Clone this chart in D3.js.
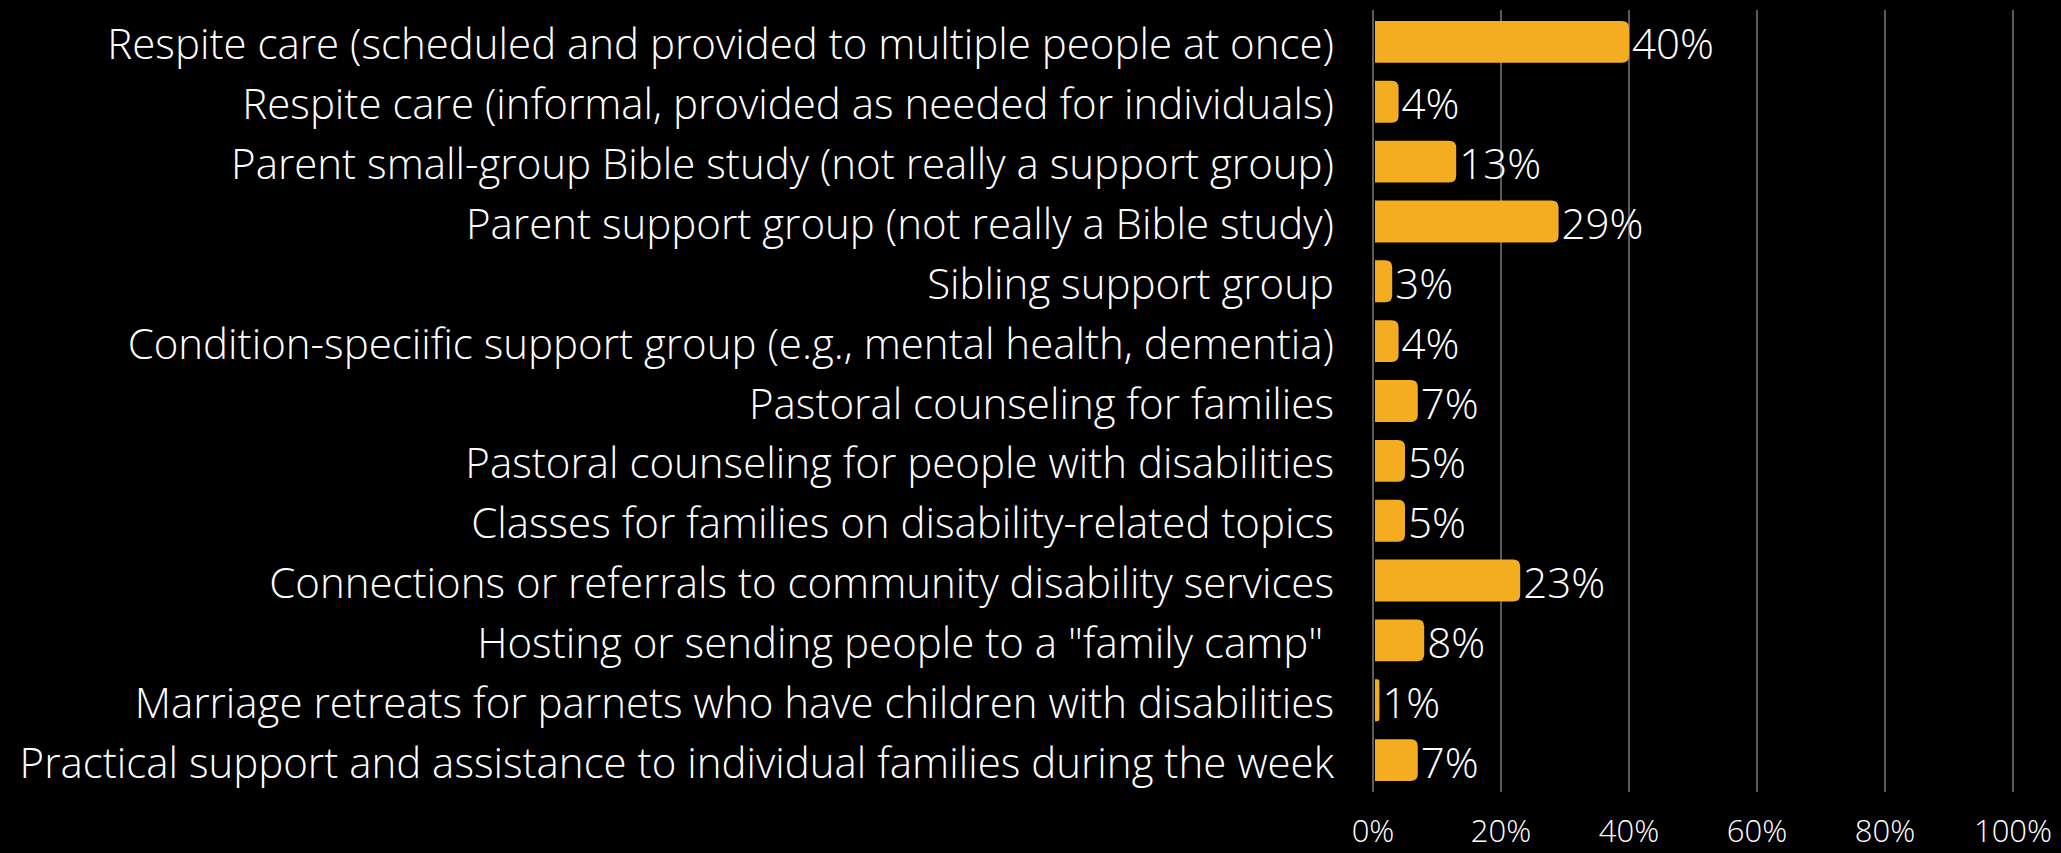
<!DOCTYPE html>
<html><head><meta charset="utf-8">
<script src="https://cdn.jsdelivr.net/npm/d3@7"></script>
<style>
html,body{margin:0;padding:0;background:#000;}
svg{display:block;}
text{font-family:"Open Sans","Lato",sans-serif;font-weight:300;fill:#fff;white-space:pre;}
</style></head>
<body>
<svg id="chart" width="2061" height="853"></svg>
<script>
const categories = [
  "Respite care (scheduled and provided to multiple people at once)",
  "Respite care (informal, provided as needed for individuals)",
  "Parent small-group Bible study (not really a support group)",
  "Parent support group (not really a Bible study)",
  "Sibling support group",
  "Condition-speciific support group (e.g., mental health, dementia)",
  "Pastoral counseling for families",
  "Pastoral counseling for people with disabilities",
  "Classes for families on disability-related topics",
  "Connections or referrals to community disability services",
  "Hosting or sending people to a \"family camp\" ",
  "Marriage retreats for parnets who have children with disabilities",
  "Practical support and assistance to individual families during the week"
];
const values = [40, 4, 13, 29, 3, 4, 7, 5, 5, 23, 8, 1, 7];
const tickValues = [0, 20, 40, 60, 80, 100];

const svg = d3.select("#chart");
const x = d3.scaleLinear().domain([0, 100]).range([1373, 2013]);
const y = d3.scaleBand().domain(categories).range([12, 790]).paddingInner(0.3).paddingOuter(0.15);

// gridlines
svg.append("g").selectAll("line").data(tickValues).join("line")
  .attr("x1", d => x(d)).attr("x2", d => x(d))
  .attr("y1", 10).attr("y2", 792)
  .attr("stroke", "#8c8c8c").attr("stroke-width", 1.3);

// tick labels
svg.append("g").selectAll("text").data(tickValues).join("text")
  .attr("x", d => x(d)).attr("y", 830)
  .attr("text-anchor", "middle").attr("dominant-baseline", "central")
  .style("font-size", "31px")
  .text(d => d + "%");

// bars with rounded right corners
const r = 7;
svg.append("g").selectAll("path").data(values).join("path")
  .attr("fill", "#F4AC20")
  .attr("d", (d, i) => {
    const x0 = x(0) + 2, x1 = x(d), y0 = y(categories[i]), h = y.bandwidth();
    const rr = Math.min(r, (x1 - x0) / 2);
    return `M${x0},${y0} H${x1 - rr} Q${x1},${y0} ${x1},${y0 + rr} V${y0 + h - rr} Q${x1},${y0 + h} ${x1 - rr},${y0 + h} H${x0} Z`;
  });

// value labels
svg.append("g").selectAll("text").data(values).join("text")
  .attr("x", d => x(d) + 3)
  .attr("y", (d, i) => y(categories[i]) + y.bandwidth() / 2 + 1)
  .attr("dominant-baseline", "central")
  .style("font-size", "42px")
  .text(d => d + "%");

// category labels
svg.append("g").selectAll("text").data(categories).join("text")
  .attr("x", 1334)
  .attr("y", d => y(d) + y.bandwidth() / 2 + 1)
  .attr("text-anchor", "end").attr("dominant-baseline", "central")
  .style("font-size", "42px")
  .text(d => d);
</script>
</body></html>
